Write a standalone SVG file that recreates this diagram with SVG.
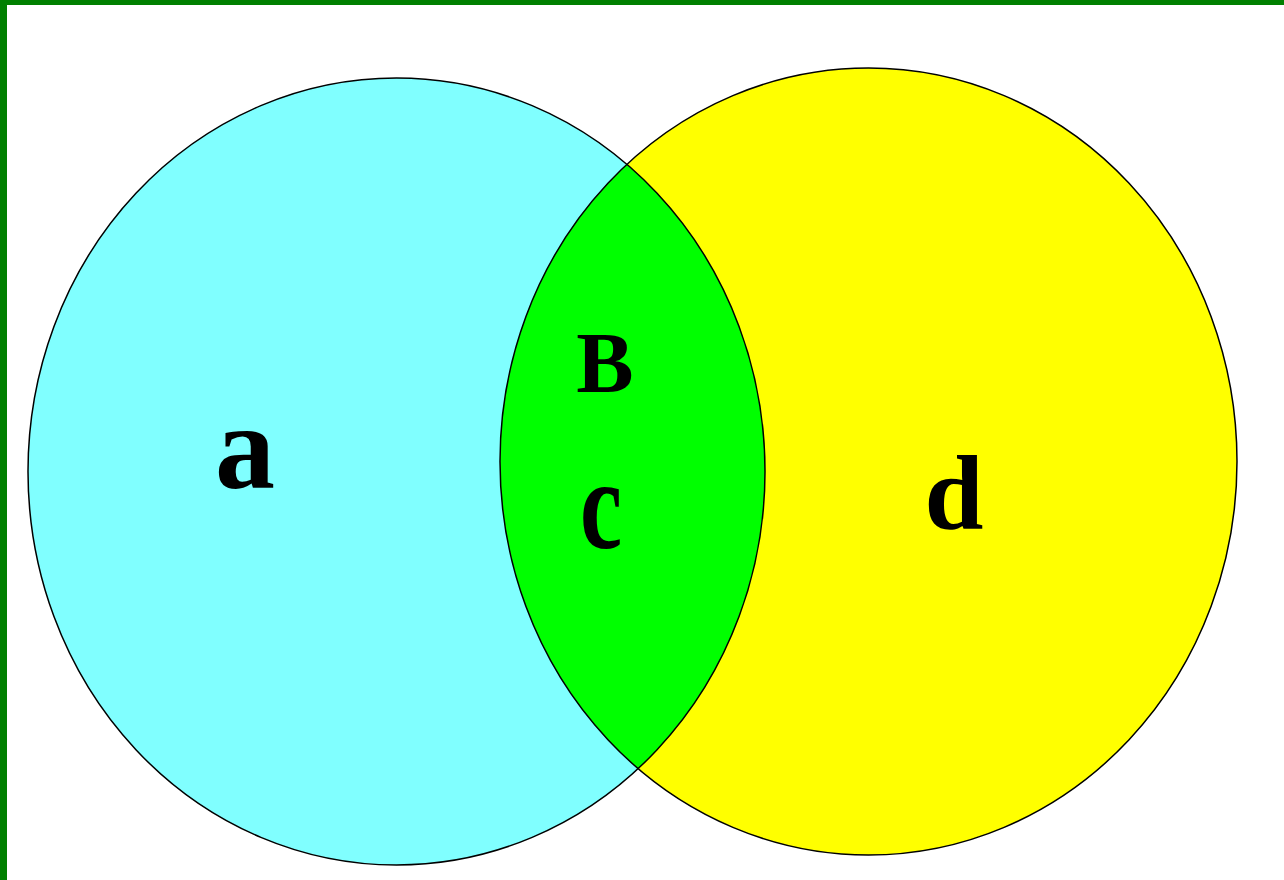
<svg xmlns="http://www.w3.org/2000/svg" width="1284" height="880" viewBox="0 0 1284 880">
  <style>
    .lbl { font-family: "Liberation Serif", "Times New Roman", serif; font-weight: bold; fill: #000; text-anchor: middle; }
    .edge { fill: none; stroke: #000; stroke-width: 1.5; }
  </style>
  <defs>
    <clipPath id="clipLeft">
      <ellipse cx="396.5" cy="471.5" rx="368.5" ry="393.5"/>
    </clipPath>
  </defs>
  <rect x="0" y="0" width="1284" height="880" fill="#ffffff"/>
  <rect x="0" y="0" width="1284" height="5" fill="#008000"/>
  <rect x="0" y="0" width="7" height="880" fill="#008000"/>

  <g id="set-a">
    <ellipse cx="396.5" cy="471.5" rx="368.5" ry="393.5" fill="#80ffff"/>
  </g>
  <g id="set-d">
    <ellipse cx="868.5" cy="461.5" rx="368.5" ry="393.5" fill="#ffff00"/>
  </g>
  <g id="intersection">
    <ellipse cx="868.5" cy="461.5" rx="368.5" ry="393.5" fill="#00ff00" clip-path="url(#clipLeft)"/>
  </g>
  <g id="outlines">
    <ellipse class="edge" cx="396.5" cy="471.5" rx="368.5" ry="393.5"/>
    <ellipse class="edge" cx="868.5" cy="461.5" rx="368.5" ry="393.5"/>
  </g>

  <g id="labels">
    <text class="lbl" x="245" y="488" font-size="120">a</text>
    <text class="lbl" x="605" y="392" font-size="86">B</text>
    <text class="lbl" transform="translate(601,548) scale(0.95,1.3)" x="0" y="0" font-size="100">c</text>
    <text class="lbl" x="954" y="529" font-size="106">d</text>
  </g>
</svg>
